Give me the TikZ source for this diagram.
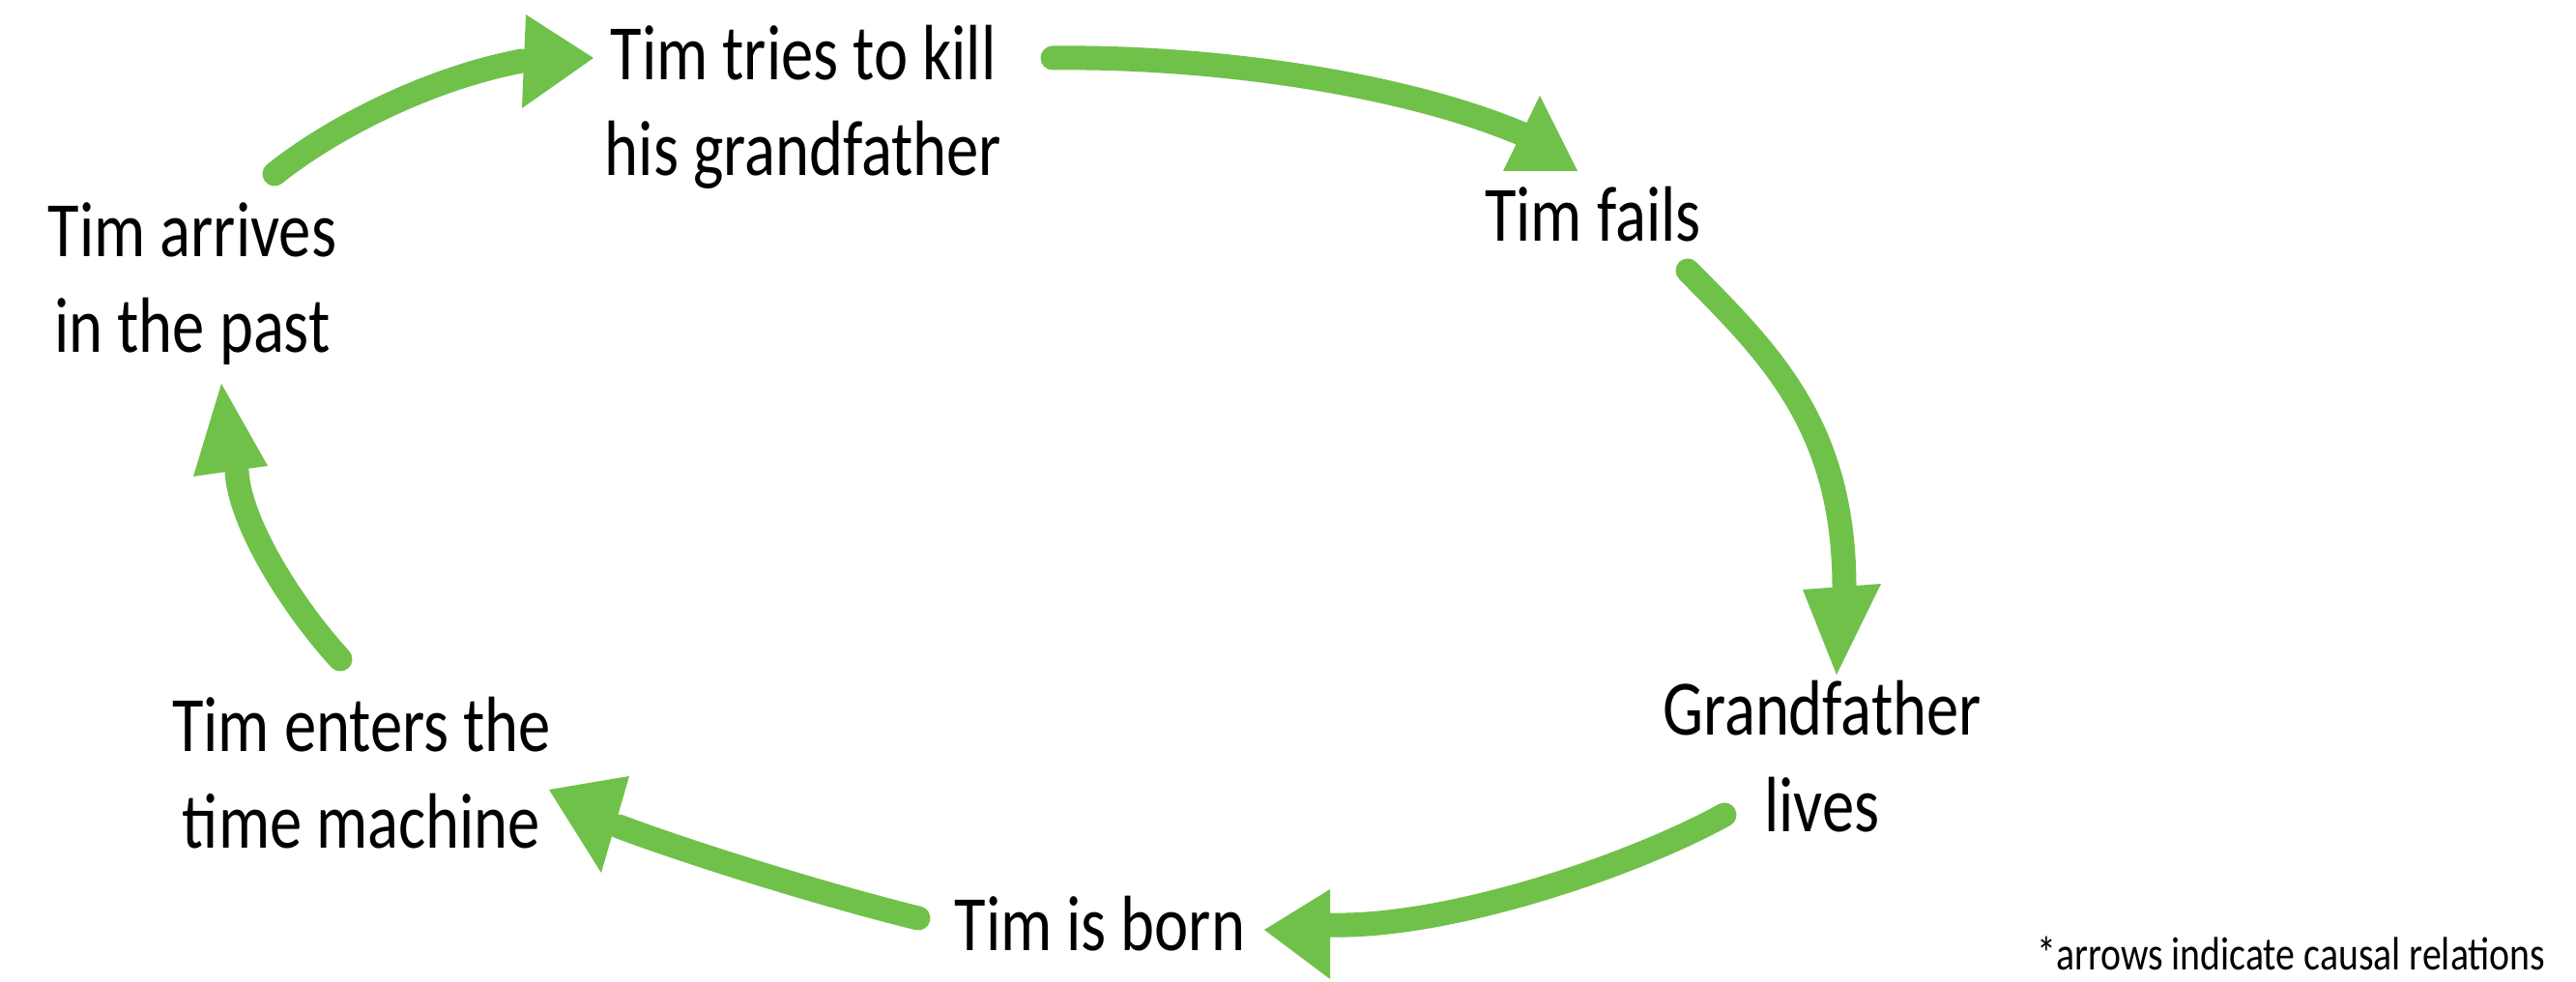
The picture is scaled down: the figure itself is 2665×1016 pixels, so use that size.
\documentclass[tikz,border=0pt]{standalone}
\usepackage{fontspec}
\setmainfont{Carlito}[FakeStretch=0.82]
\definecolor{arrowgreen}{RGB}{112,193,74}
\begin{document}
\begin{tikzpicture}[x=0.1mm,y=-0.1mm,
  lbl/.style={inner sep=0pt, align=center, font=\fontsize{23.1}{28.2}\selectfont, anchor=base},
  notelbl/.style={inner sep=0pt, font=\fontsize{13.8}{16}\selectfont, anchor=base east},
  shaft/.style={draw=arrowgreen, line width=2.5mm, line cap=round},
  headfill/.style={fill=arrowgreen, draw=none}]
\path[use as bounding box, fill=white] (0,0) rectangle (2665,1016);

% labels
\node[lbl] (tries)  at (831,182)  {Tim tries to kill\\his grandfather};
\node[lbl] (arrives) at (199,365) {Tim arrives\\in the past};
\node[lbl] (fails)  at (1648,250) {Tim fails};
\node[lbl] (grand)  at (1885,860) {Grandfather\\lives};
\node[lbl] (born)   at (1138,983) {Tim is born};
\node[lbl] (enters) at (374,877)  {Tim enters the\\time machine};
\node[notelbl] (note) at (2634,1003) {*arrows indicate causal relations};

% connector end points
\coordinate (s1) at (284,180);  \coordinate (e1) at (540,63);
\coordinate (s2) at (1089,60);  \coordinate (e2) at (1578,140);
\coordinate (s3) at (1746,280); \coordinate (e3) at (1908,608);
\coordinate (s4) at (1784,843); \coordinate (e4) at (1376,957);
\coordinate (s5) at (950,950);  \coordinate (e5) at (640,855);
\coordinate (s6) at (352,682);  \coordinate (e6) at (245,488);

% shafts
\draw[shaft] (s1) .. controls (340,135) and (440,82) .. (e1);
\draw[shaft] (s2) .. controls (1250,58) and (1450,85) .. (e2);
\draw[shaft] (s3) .. controls (1830,365) and (1908,440) .. (e3);
\draw[shaft] (s4) .. controls (1690,895) and (1500,960) .. (e4);
\draw[shaft] (s5) .. controls (860,928) and (720,885) .. (e5);
\draw[shaft] (s6) .. controls (300,625) and (248,540) .. (e6);

% arrow heads
\fill[headfill] (614,60) -- (544,15) -- (540,112) -- cycle;
\fill[headfill] (1593,99) -- (1555,177) -- (1632,177) -- cycle;
\fill[headfill] (1900,698) -- (1865,610) -- (1946,604) -- cycle;
\fill[headfill] (1308,962) -- (1376,920) -- (1376,1013) -- cycle;
\fill[headfill] (568,817) -- (651,803) -- (622,903) -- cycle;
\fill[headfill] (229,397) -- (200,493) -- (277,482) -- cycle;
\end{tikzpicture}
\end{document}
